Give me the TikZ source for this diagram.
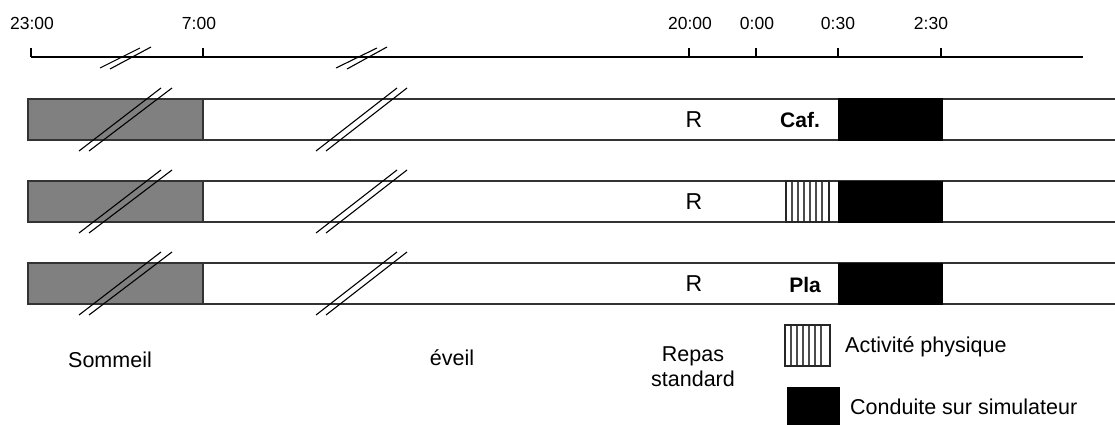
\documentclass[tikz,border=0pt]{standalone}
\usepackage{fontspec}
\setmainfont{Liberation Sans}
\begin{document}
\begin{tikzpicture}[x=1pt,y=-1pt,
  lab/.style={font=\fontsize{21.5}{25}\selectfont, inner sep=0pt},
  rlab/.style={font=\fontsize{23}{25}\selectfont, inner sep=0pt},
  boldlab/.style={font=\fontsize{21}{25}\selectfont\bfseries, inner sep=0pt},
  tlab/.style={font=\fontsize{17.5}{20}\selectfont, inner sep=0pt},
  axis/.style={draw=black, line width=1.1pt},
  barline/.style={draw=black!80, line width=1.3pt},
  sleepbox/.style={draw=black!80, line width=1.3pt, fill=black!50},
  drivebox/.style={draw=black, line width=1pt, fill=black},
  stripe/.style={draw=black!70, line width=2pt},
  brk/.style={draw=black, line width=1.1pt}
]
\useasboundingbox (0,0) rectangle (1115,425);
\clip (0,0) rectangle (1115,425);

% time axis
\coordinate (a0) at (31,57);
\coordinate (a1) at (1083,57);
\draw[axis] (a0) -- (a1);
\foreach \x/\lx/\t [count=\i] in {31/32/23:00, 203/199/7:00, 689/690/20:00, 756/757/0:00, 838/838/0:30, 941/931/2:30}{
  \coordinate (tk\i) at (\x,57);
  \draw[axis] (tk\i) -- ++(0,-9);
  \node[tlab] (tl\i) at (\lx,23) {\t};
}
% axis breaks
\draw[brk] (100,68) -- (140,48);
\draw[brk] (110,69) -- (151,47);
\draw[brk] (336,68) -- (377,48);
\draw[brk] (347,69) -- (387,47);

% rows
\foreach \top [count=\r] in {99,181,263}{
  \draw[barline] (1120,\top) -- (28,\top) -- (28,\top+41) -- (1120,\top+41);
  \draw[sleepbox] (28,\top) rectangle (203,\top+41);
  \draw[drivebox] (838,\top) rectangle (942,\top+41);
  \node[rlab] (R\r) at (694,\top+21) {R};
  \draw[brk] (79,\top+52) -- (161,\top-11);
  \draw[brk] (89,\top+52) -- (172,\top-11);
  \draw[brk] (316,\top+52) -- (397,\top-11);
  \draw[brk] (326,\top+52) -- (407,\top-11);
}
\node[boldlab] (caf) at (800,120) {Caf.};
\node[boldlab] (pla) at (805,285) {Pla};

% physical activity in row 2
\foreach \k in {1,...,6}{\draw[stripe] (786+6*\k,181) -- (786+6*\k,222);}
\draw[draw=black!85, line width=1.2pt] (786,181) rectangle (829,222);

% legend
\node[lab] (sommeil) at (110,360) {Sommeil};
\node[lab] (eveil) at (452,358) {éveil};
\node[lab, align=center] (repas) at (693,367) {Repas\\standard};
\foreach \k in {1,...,6}{\draw[stripe] (785+6*\k,325) -- (785+6*\k,366);}
\draw[draw=black!85, line width=1.2pt] (785,325) rectangle (830,366);
\node[lab, anchor=west] (act) at (845,347) {Activité physique};
\draw[drivebox] (787,387) rectangle (839,432);
\node[lab, anchor=west] (cond) at (850,407) {Conduite sur simulateur};
\end{tikzpicture}
\end{document}
